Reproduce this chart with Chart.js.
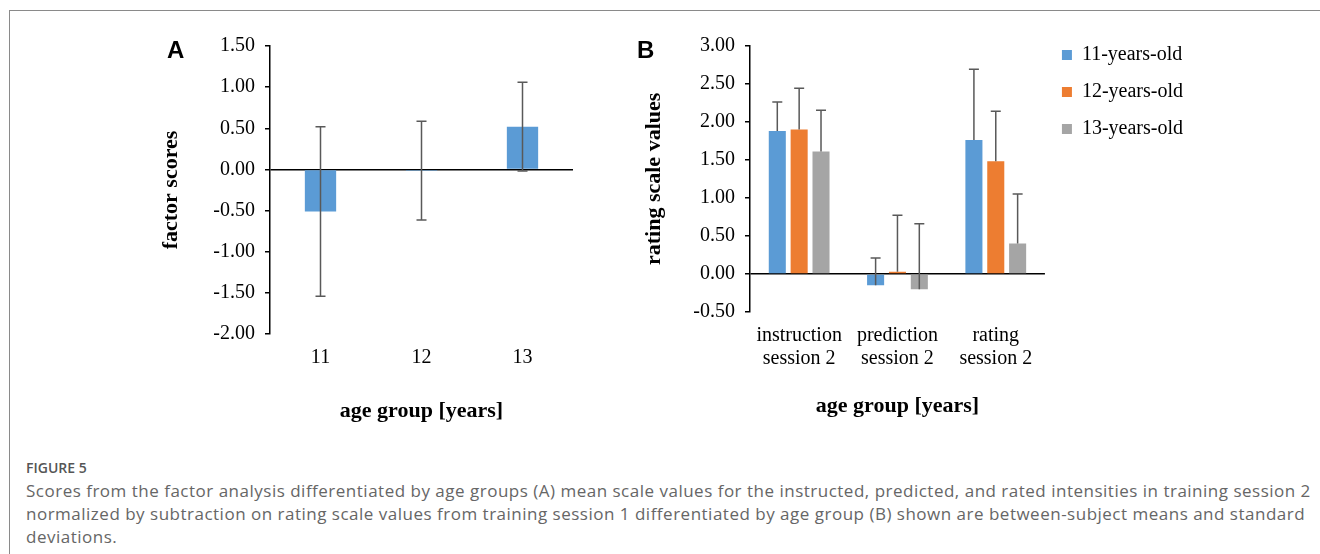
<!DOCTYPE html>
<html>
<head>
<meta charset="utf-8">
<script src="https://cdn.jsdelivr.net/npm/chart.js@4"></script>
<style>
  body { margin: 0; background: #fff; width: 1320px; height: 554px; overflow: hidden; position: relative; }
  .frame { position: absolute; left: 9px; top: 10px; right: 0; bottom: 0; border-left: 1px solid #8a8a8a; border-top: 1px solid #8a8a8a; }
  #boxA { position: absolute; left: 140px; top: 24px; width: 450px; height: 405px; }
  #boxB { position: absolute; left: 600px; top: 28px; width: 620px; height: 396px; }
  .tag { position: absolute; font: bold 24px "Liberation Sans", Arial, sans-serif; color: #000; }
  .cap { position: absolute; left: 26px; top: 458px; font-family: "Open Sans", sans-serif; color: #666; white-space: nowrap; }
  .cap .fig { font-size: 14px; font-weight: 600; color: #555; margin-bottom: 2px; }
  .cap .txt { font-size: 17px; line-height: 23px; letter-spacing: 0.5px; }
</style>
</head>
<body>
<div class="frame"></div>
<div id="boxA"><canvas id="chartA"></canvas></div>
<div id="boxB"><canvas id="chartB"></canvas></div>
<div class="tag" style="left:167px;top:36px;">A</div>
<div class="tag" style="left:637px;top:36px;">B</div>
<div class="cap">
  <div class="fig">FIGURE 5</div>
  <div class="txt">Scores from the factor analysis differentiated by age groups (A) mean scale values for the instructed, predicted, and rated intensities in training session 2<br>normalized by subtraction on rating scale values from training session 1 differentiated by age group (B) shown are between-subject means and standard<br>deviations.</div>
</div>
<script>
// panel A: factor scores per age group
const ageGroups = ['11', '12', '13'];
const factorMeans = [-0.51, -0.015, 0.52];
const factorSD = [1.03, 0.60, 0.54];

// panel B: rating scale values per session
const sessions = [['instruction', 'session 2'], ['prediction', 'session 2'], ['rating', 'session 2']];
const seriesNames = ['11-years-old', '12-years-old', '13-years-old'];
const means11 = [1.88, -0.15, 1.76];
const means12 = [1.90, 0.03, 1.48];
const means13 = [1.61, -0.20, 0.40];
const sd11 = [0.38, 0.36, 0.93];
const sd12 = [0.54, 0.74, 0.66];
const sd13 = [0.54, 0.86, 0.65];
const colors = ['#5B9BD5', '#ED7D31', '#A5A5A5'];

const serif = '"Liberation Serif", "Times New Roman", serif';

// error bars drawn from dataset.sd through the chart scales
const errorBars = {
  id: 'errorBars',
  afterDatasetsDraw(chart, args, opts) {
    const ctx = chart.ctx;
    const y = chart.scales.y;
    ctx.save();
    ctx.strokeStyle = '#595959';
    ctx.lineWidth = 1.5;
    chart.data.datasets.forEach((ds, i) => {
      const meta = chart.getDatasetMeta(i);
      meta.data.forEach((bar, j) => {
        const v = ds.data[j], s = ds.sd[j];
        const top = y.getPixelForValue(v + s);
        const bot = opts.both ? y.getPixelForValue(v - s) : y.getPixelForValue(v);
        ctx.beginPath();
        ctx.moveTo(bar.x, top); ctx.lineTo(bar.x, bot);
        ctx.moveTo(bar.x - 5, top); ctx.lineTo(bar.x + 5, top);
        if (opts.both) { ctx.moveTo(bar.x - 5, bot); ctx.lineTo(bar.x + 5, bot); }
        ctx.stroke();
      });
    });
    ctx.restore();
  }
};

function yScale(min, max, title, width, titleLeft, lineHeight) {
  return {
    min: min, max: max,
    ticks: { stepSize: 0.5, autoSkip: false, color: '#000', font: { family: serif, size: 20, lineHeight: lineHeight },
             padding: 10, callback: v => v.toFixed(2) },
    grid: { color: c => c.tick.value === 0 ? '#000' : 'transparent', lineWidth: 1.5,
            tickColor: '#000', tickLength: 5 },
    border: { display: true, color: '#000', width: 1.5 },
    title: { display: true, text: title, color: '#000', padding: { top: titleLeft, bottom: 4 },
             font: { family: serif, size: 22, weight: 'bold' } },
    afterFit: s => { s.width = width; }
  };
}

function xScale(height) {
  return {
    grid: { display: false },
    border: { display: false },
    ticks: { color: '#000', font: { family: serif, size: 20, lineHeight: 1.15 }, padding: 4, maxRotation: 0 },
    title: { display: true, text: 'age group [years]', color: '#000',
             font: { family: serif, size: 22, weight: 'bold' } },
    afterFit: s => { s.height = height; }
  };
}

new Chart(document.getElementById('chartA'), {
  type: 'bar',
  data: {
    labels: ageGroups,
    datasets: [{ label: 'factor scores', data: factorMeans, sd: factorSD,
                 backgroundColor: colors[0], categoryPercentage: 0.31, barPercentage: 1 }]
  },
  options: {
    responsive: true, maintainAspectRatio: false, animation: false,
    layout: { padding: { top: 0, right: 17, left: 0, bottom: 0 } },
    plugins: { legend: { display: false }, tooltip: { enabled: false }, errorBars: { both: true } },
    scales: { x: xScale(95), y: yScale(-2, 1.5, 'factor scores', 130, 18, 1.2) }
  },
  plugins: [errorBars]
});

new Chart(document.getElementById('chartB'), {
  type: 'bar',
  data: {
    labels: sessions,
    datasets: [
      { label: seriesNames[0], data: means11, sd: sd11, backgroundColor: colors[0] },
      { label: seriesNames[1], data: means12, sd: sd12, backgroundColor: colors[1] },
      { label: seriesNames[2], data: means13, sd: sd13, backgroundColor: colors[2] }
    ]
  },
  options: {
    responsive: true, maintainAspectRatio: false, animation: false,
    datasets: { bar: { categoryPercentage: 0.667, barPercentage: 0.78 } },
    layout: { padding: { top: 0, right: 27, left: 0, bottom: 0 } },
    plugins: {
      tooltip: { enabled: false },
      errorBars: { both: false },
      legend: {
        position: 'right', align: 'start',
        labels: { color: '#000', font: { family: serif, size: 20 }, boxWidth: 10, boxHeight: 10, padding: 17 }
      }
    },
    scales: { x: xScale(112), y: yScale(-0.5, 3, 'rating scale values', 150, 41, 0.77) }
  },
  plugins: [errorBars]
});
</script>
</body>
</html>
